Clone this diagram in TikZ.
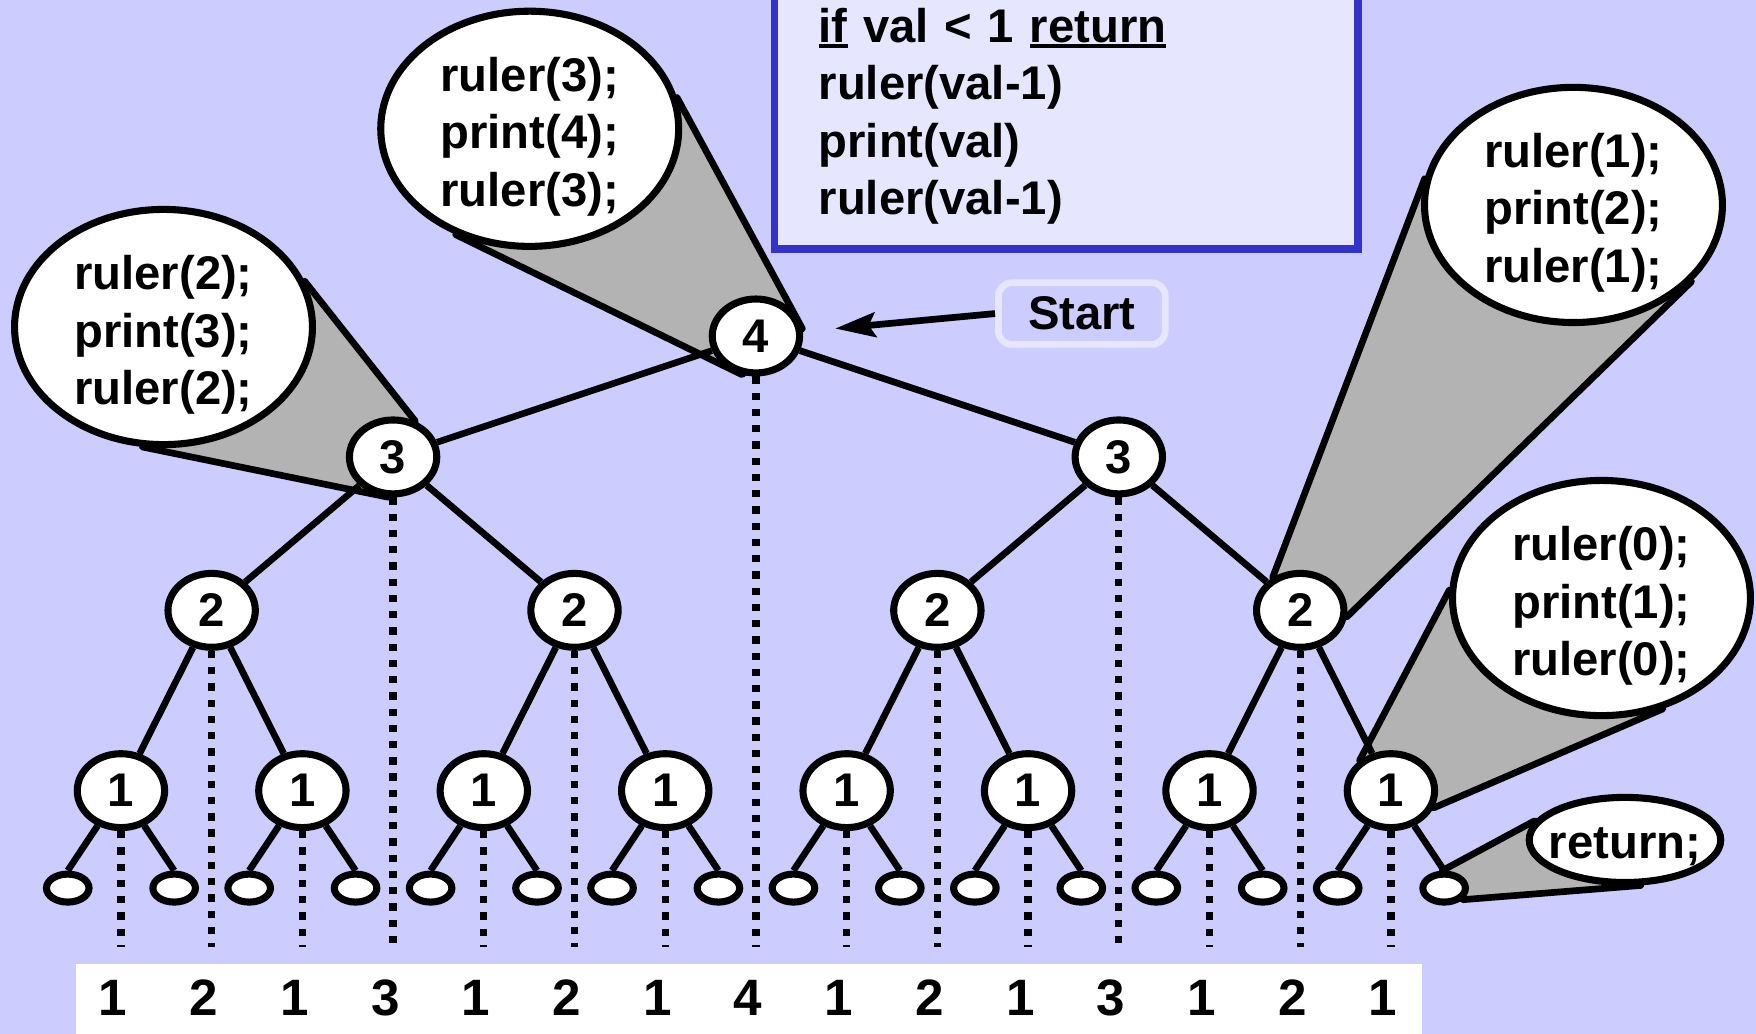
\documentclass[tikz,border=0pt]{standalone}
\usepackage{fontspec}
\setmainfont{Liberation Sans}
\usetikzlibrary{shapes.geometric,arrows.meta,backgrounds}
\definecolor{bgblue}{HTML}{CCCCFF}
\definecolor{paleblue}{HTML}{E6E6FF}
\definecolor{boxblue}{HTML}{3333CC}
\definecolor{conegray}{HTML}{B3B3B3}
\newcommand\kw[1]{\setbox0\hbox{#1}\rlap{\rule[-0.11em]{\wd0}{0.085em}}\box0\relax}

\begin{document}
\begin{tikzpicture}[font=\fontsize{12}{14.6}\selectfont\bfseries,
  tnode/.style = {ellipse,draw,fill=white,line width=1.8pt,minimum width=0.78cm,minimum height=0.66cm,inner sep=0pt},
  leaf/.style = {ellipse,draw,fill=white,line width=1.8pt,minimum width=0.38cm,minimum height=0.25cm,inner sep=0pt},
  bubble/.style = {ellipse,draw,fill=white,line width=1.8pt,minimum width=2.66cm,minimum height=2.10cm,inner sep=0pt},
  bubtext/.style = {align=left,inner sep=0pt},
  link/.style = {line width=1.7pt},
  cone/.style = {draw,fill=conegray,line width=1.7pt,line join=round},
  dotline/.style = {line width=0.065cm,dash pattern=on 0.065cm off 0.08cm},
  digit/.style = {font=\fontsize{13}{15}\selectfont\bfseries}]
\useasboundingbox (0,0) rectangle (15.68,9.23);

% tree nodes, in order from left to right, and the printed row
\foreach \val/\ypos [count=\i] in {1/2.17,2/3.78,1/2.17,3/5.15,1/2.17,2/3.78,1/2.17,4/6.23,
                                  1/2.17,2/3.78,1/2.17,3/5.15,1/2.17,2/3.78,1/2.17} {
  \node[tnode] (n\i) at ({1.08+0.81*(\i-1)},\ypos) {\val};
  \node[digit] (d\i) at ({1.01+0.81*(\i-1)},0.32) {\val};
  \coordinate (e\i) at ({1.08+0.81*(\i-1)},0.77);
}
\foreach \i in {1,3,...,15} {
  \node[leaf] (a\i) at ({1.08+0.81*(\i-1)-0.475},1.30) {};
  \node[leaf] (b\i) at ({1.08+0.81*(\i-1)+0.475},1.30) {};
}

% callouts
\node[bubble] (cA) at (1.46,6.31) {};
\node[bubble] (cB) at (4.73,8.08) {};
\node[bubble] (cC) at (14.05,7.40) {};
\node[bubble] (cD) at (14.30,3.89) {};
\node[bubble,minimum width=1.71cm,minimum height=0.76cm] (cE) at (14.51,1.73) {};
\node[bubtext] (tA) at ([yshift=-0.07cm]cA) {ruler(2);\\print(3);\\ruler(2);};
\node[bubtext] (tB) at ([yshift=-0.07cm]cB) {ruler(3);\\print(4);\\ruler(3);};
\node[bubtext] (tC) at ([yshift=-0.07cm]cC) {ruler(1);\\print(2);\\ruler(1);};
\node[bubtext] (tD) at ([yshift=-0.07cm]cD) {ruler(0);\\print(1);\\ruler(0);};
\node[bubtext] (tE) at ([yshift=-0.06cm]cE) {return;};

% code
\node[draw=boxblue,fill=paleblue,line width=0.07cm,minimum height=2.37cm,text width=4.42cm,
      inner xsep=0.395cm,align=left] (code) at (9.52,8.19)
  {\kw{if} val < 1 \kw{return}\\ruler(val-1)\\print(val)\\ruler(val-1)};

\node[draw=paleblue,fill=bgblue,line width=0.06cm,rounded corners=0.12cm,minimum width=1.49cm,
      minimum height=0.55cm,inner sep=0pt] (start) at (9.66,6.43) {Start};
\draw[-{Stealth[length=0.36cm,width=0.22cm,inset=0.06cm]},line width=0.06cm,shorten >=0.29cm] (start.west) -- (n8);

\begin{scope}[on background layer]
  \fill[bgblue] (0,0) rectangle (15.68,9.23);
  \fill[white] (0.68,0) rectangle (12.70,0.62);
  \draw[cone] (cA.18) -- (n4.58) -- (n4.-97) -- (cA.-100) -- cycle;
  \draw[cone] (cB.12) -- (n8.9) -- (n8.-110) -- (cB.-125) -- cycle;
  \draw[cone] (cC.170) -- (n14.130) -- (n14.-8) -- (cC.-33) -- cycle;
  \draw[cone] (cD.177) -- (n15.136) -- (n15.-22) -- (cD.-61) -- cycle;
  \draw[cone] (cE.168) -- (b15.96) -- (b15.-32) -- (cE.-71) -- cycle;
  \foreach \p/\c in {8/4,8/12,4/2,4/6,12/10,12/14,2/1,2/3,6/5,6/7,10/9,10/11,14/13,14/15}
    \draw[link] (n\p) -- (n\c);
  \foreach \i in {1,3,...,15} {
    \draw[link] (n\i) -- (a\i.north);
    \draw[link] (n\i) -- (b\i.north);
  }
  \foreach \i in {1,...,15}
    \draw[dotline] (n\i) -- (e\i);
\end{scope}
\end{tikzpicture}
\end{document}
